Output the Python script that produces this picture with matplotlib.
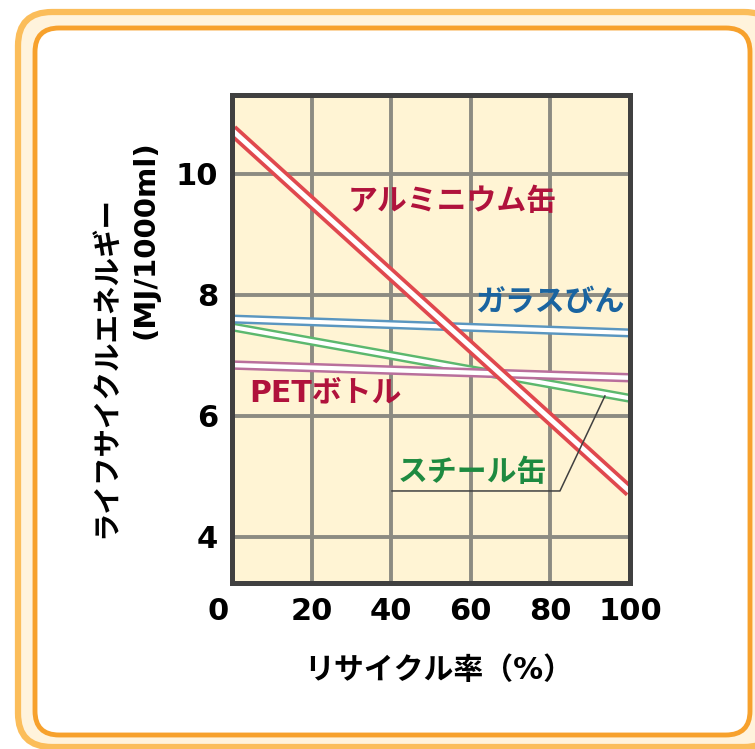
import matplotlib
matplotlib.use("Agg")
import matplotlib.pyplot as plt
from matplotlib.patches import FancyBboxPatch
from matplotlib.transforms import ScaledTranslation

plt.rcParams['font.family'] = ['DejaVu Sans', 'Noto Sans CJK JP']

# リサイクル率とライフサイクルエネルギー (MJ/1000ml)
recycle_rate = [0, 100]
aluminium = [10.72, 4.75]
glass = [7.60, 7.37]
steel = [7.47, 6.29]
pet = [6.84, 6.63]

x_ticks = [0, 20, 40, 60, 80, 100]
y_ticks = [4, 6, 8, 10]

fig = plt.figure(figsize=(7.55, 7.49), dpi=100)

# rounded orange double frame
outer = FancyBboxPatch((18 / 755, 1 - 747 / 749), 760 / 755, 735 / 749,
                       boxstyle="round,pad=0,rounding_size=0.045",
                       transform=fig.transFigure, facecolor='#fff3dc',
                       edgecolor='#fbbd5a', linewidth=4.5, zorder=-2)
inner = FancyBboxPatch((35 / 755, 1 - 735 / 749), 715 / 755, 707 / 749,
                       boxstyle="round,pad=0,rounding_size=0.032",
                       transform=fig.transFigure, facecolor='white',
                       edgecolor='#f7a12c', linewidth=3.5, zorder=-1)
fig.patches.extend([outer, inner])

ax = fig.add_axes([232 / 755, 1 - 583 / 749, 398 / 755, 488 / 749])
ax.set_facecolor('#fff4d4')


def double_line(x, y, color, width, gap):
    ax.plot(x, y, color=color, lw=width, solid_capstyle='butt', zorder=3)
    ax.plot(x, y, color='white', lw=gap, solid_capstyle='butt', zorder=3)


double_line(recycle_rate, steel, '#5cb86e', 6.5, 3.0)
double_line(recycle_rate, glass, '#5a96c0', 6.5, 3.0)
double_line(recycle_rate, pet, '#b96f9c', 6.8, 3.2)
double_line(recycle_rate, aluminium, '#e0484e', 8.9, 3.6)

# leader for スチール缶
ax.plot([40.2, 82.4, 93.7], [4.76, 4.76, 6.33], color='#404040', lw=1.1, zorder=4)

label_kw = dict(fontsize=21.5, fontweight='bold', ha='center', va='center', zorder=5)
ax.text(55.3, 9.54, 'アルミニウム缶', color='#b0123c', **label_kw)
ax.text(79.9, 7.87, 'ガラスびん', color='#1a64a0', **label_kw)
ax.text(23.6, 6.38, 'PETボトル', color='#b0123c', **label_kw)
ax.text(60.3, 5.07, 'スチール缶', color='#1e8a40', **label_kw)

ax.set_xlim(0, 100)
ax.set_ylim(3.24, 11.3)
ax.set_xticks(x_ticks)
ax.set_yticks(y_ticks)
ax.tick_params(length=0, labelsize=22, pad=10)
for lab in ax.get_xticklabels() + ax.get_yticklabels():
    lab.set_fontweight('bold')
# the "0" sits a little left of the corner
first = ax.get_xticklabels()[0]
first.set_transform(first.get_transform() + ScaledTranslation(-0.14, 0, fig.dpi_scale_trans))

ax.grid(True, color='#8c8b82', lw=2.8)
ax.set_axisbelow(True)
for s in ax.spines.values():
    s.set_color('#404040')
    s.set_linewidth(3.6)
    s.set_zorder(6)

fig.text(107 / 755, 1 - 367 / 749, 'ライフサイクルエネルギー', rotation=90,
         fontsize=20.5, fontweight='bold', ha='center', va='center')
fig.text(145 / 755, 1 - 240 / 749, '(MJ/1000ml)', rotation=90,
         fontsize=21, fontweight='bold', ha='center', va='center')
fig.text(439 / 755, 1 - 670 / 749, 'リサイクル率（%）', fontsize=21.5,
         fontweight='bold', ha='center', va='center')

fig.savefig('out.png', dpi=100)
